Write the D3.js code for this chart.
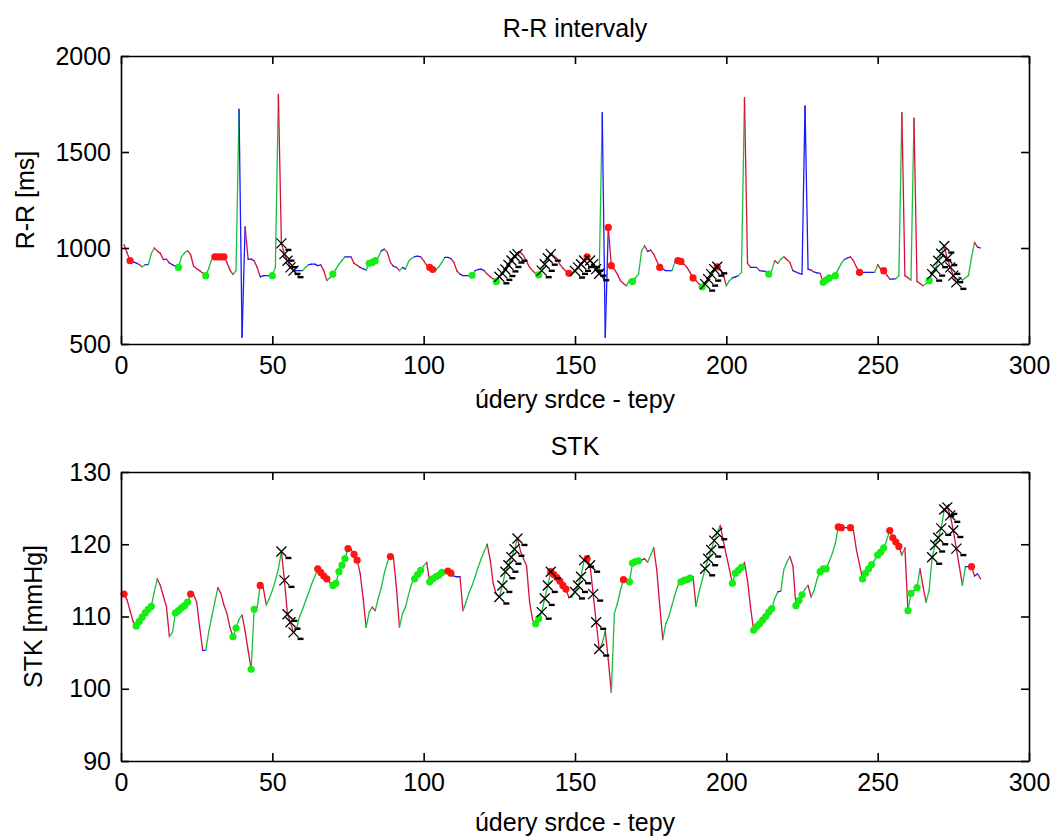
<!DOCTYPE html>
<html><head><meta charset="utf-8">
<script src="https://cdn.jsdelivr.net/npm/d3@7"></script>
<style>
body{margin:0;background:#fff}
text{font-family:"Liberation Sans",Arial,sans-serif;fill:#000}
</style>
</head><body>
<svg id="chart" width="1054" height="836"></svg>
<script>
// ---------------- DATA ----------------
const beats = d3.range(1, 285);

const rrValues = [
1017,975,934,928,922,914,902,913,913,970,
1000,985,972,940,942,922,913,905,899,955,
975,985,965,905,892,882,870,856,895,940,
954,954,954,954,925,885,862,882,1723,535,
1110,942,942,934,899,850,856,856,856,856,
899,1800,1024,968,934,899,882,882,882,882,
900,913,916,916,908,912,882,830,845,864,
890,916,935,954,954,954,920,910,899,892,
885,920,925,934,951,985,994,977,925,905,
899,882,899,890,930,945,955,958,954,934,
910,899,888,885,902,925,951,951,945,925,
880,864,856,856,856,858,882,888,890,882,
864,850,838,826,850,868,888,912,935,958,
968,978,960,930,899,882,866,860,882,915,
947,968,958,945,915,895,880,868,864,880,
899,915,935,954,935,916,890,866,1705,535,
1107,908,890,864,830,815,803,833,826,845,
864,985,1012,982,989,968,934,899,890,882,
882,882,925,934,930,915,899,873,844,830,
812,798,812,838,864,890,902,885,864,803,
830,844,850,856,873,1783,920,899,899,899,
882,880,878,864,882,934,920,942,954,940,
925,882,875,868,864,1740,890,885,875,870,
868,821,833,844,850,856,890,920,940,948,
954,934,900,873,873,873,873,873,873,913,
890,882,860,838,838,840,856,1705,856,845,
833,1676,826,815,803,815,830,864,890,934,
970,1010,945,899,856,821,847,833,845,856,
950,1029,1005,1000
];

const stkValues = [
113.1,112.3,110.8,109.3,108.7,109.3,109.9,110.5,111.0,111.4,
113.4,115.2,114.3,112.8,111.4,107.2,107.8,110.5,110.8,111.2,
111.5,112.0,113.1,113.0,112.0,108.5,105.3,105.3,107.9,110.0,
112.0,114.0,113.2,111.6,110.4,108.5,107.2,108.4,109.6,110.2,
108.0,105.3,102.7,111.0,111.3,114.3,114.0,111.6,112.5,113.6,
115.0,116.6,119.0,115.0,110.3,109.2,107.8,108.3,110.0,111.0,
112.2,113.3,114.5,115.5,116.6,116.1,115.6,115.2,114.7,114.3,
114.6,116.2,117.1,118.0,119.4,119.3,118.6,117.8,116.0,112.5,
108.5,110.6,111.3,110.8,112.5,114.0,116.0,117.5,118.3,118.2,
114.0,108.5,110.4,111.3,113.0,114.5,115.2,115.8,116.4,117.0,
117.5,114.8,115.2,115.5,115.7,116.1,116.3,116.3,116.0,115.6,
115.5,115.5,110.8,112.0,113.3,114.3,115.5,116.8,118.0,119.0,
120.0,117.8,114.5,113.1,112.7,114.3,116.2,117.1,118.2,119.3,
120.8,119.0,118.0,117.0,112.0,109.5,109.0,109.7,110.6,112.5,
114.3,116.2,115.8,115.4,114.9,114.3,113.8,112.6,112.7,113.4,
114.3,115.5,117.8,118.0,117.1,113.1,109.2,105.5,106.3,108.0,
104.0,99.5,110.4,111.8,113.6,115.1,115.2,114.8,117.4,117.6,
117.7,117.8,118.0,117.5,118.5,119.5,116.5,111.5,106.8,109.0,
110.0,111.5,113.0,114.3,114.8,115.0,115.1,115.3,115.5,111.4,
113.4,115.0,116.6,118.0,119.2,120.5,121.6,122.6,120.5,118.5,
116.6,114.6,116.0,116.4,116.8,117.5,115.0,111.3,108.1,108.6,
109.0,109.5,110.0,110.6,111.1,112.5,113.4,113.5,116.5,117.5,
118.3,117.0,111.5,112.2,113.0,113.8,114.3,112.7,113.6,115.2,
116.2,116.6,116.6,117.6,118.7,120.1,122.4,122.3,122.3,122.3,
122.3,121.9,119.2,117.2,115.2,116.0,116.6,117.2,117.8,118.5,
118.9,119.5,120.6,121.9,120.9,120.3,119.7,118.5,119.5,110.8,
113.2,113.6,114.0,116.6,114.1,112.0,113.6,118.2,119.9,120.9,
122.2,124.8,125.1,124.0,121.9,119.4,116.9,114.3,116.9,116.9,
116.9,115.6,115.9,115.2
];

const xTicks = [0, 50, 100, 150, 200, 250, 300];
const rrTicks = [500, 1000, 1500, 2000];
const stkTicks = [90, 100, 110, 120, 130];

// beats flagged in the R-R series (ectopic / excluded)
const rrArtifacts = [40, 160, 226];

// marked beats (sequence markers)
const sequenceBeats = [53,54,55,56,57,125,126,127,128,129,130,131,139,140,141,142,
  150,151,152,153,155,156,157,158,193,194,195,196,197,268,269,270,271,272,273,274,275,276];
const rrGreenBeats = [19,28,50,70,82,83,84,116,124,138,169,192,214,232,233,234,236,267];
const rrRedBeats = [3,31,32,33,34,102,103,148,154,161,162,178,184,185,189,197,244,252];
const stkGreenBeats = [5,6,7,8,9,10,18,19,20,21,22,37,38,43,44,70,71,72,73,74,97,98,99,
  102,103,104,105,106,137,138,168,169,170,171,185,186,187,188,202,203,204,205,
  209,210,211,212,213,214,215,223,224,225,231,232,233,245,246,247,248,250,251,252,260,261,263];
const stkRedBeats = [1,23,46,65,66,67,68,75,77,78,89,108,109,142,143,144,145,146,147,
  154,166,237,238,241,254,255,256,257,281];

// ---------------- DRAWING ----------------
const svg = d3.select("#chart");
svg.append("rect").attr("width",1054).attr("height",836).attr("fill","#fff");

const COL = {up:"#19bf3c", down:"#d6103a", flat:"#1a1aff", gDot:"#14ee14", rDot:"#ff1414"};
const x = d3.scaleLinear().domain([0,300]).range([121,1029]);

function panel(opt){
  const y = d3.scaleLinear().domain(opt.domain).range([opt.bottom, opt.top]);
  const g = svg.append("g");
  const vals = opt.values;
  const pts = beats.map((b,i)=>({b, v:vals[i]}));

  // segments
  const segs = d3.pairs(pts).map(([a,c])=>{
    const d = c.v - a.v;
    let cls = d > opt.eps ? "up" : (d < -opt.eps ? "down" : "flat");
    if (opt.artifacts && (opt.artifacts.includes(a.b) || opt.artifacts.includes(c.b))) cls = "flat";
    return {a, c, cls};
  });
  g.append("g").selectAll("line").data(segs).join("line")
    .attr("x1",d=>x(d.a.b)).attr("y1",d=>y(d.a.v))
    .attr("x2",d=>x(d.c.b)).attr("y2",d=>y(d.c.v))
    .attr("stroke",d=>COL[d.cls]).attr("stroke-width",1.3)
    .attr("stroke-linecap","round");

  const byBeat = b => pts[b-1];
  // dots
  g.append("g").selectAll("circle.g").data(opt.greens.map(byBeat)).join("circle")
    .attr("cx",d=>x(d.b)).attr("cy",d=>y(d.v)).attr("r",3.6).attr("fill",COL.gDot);
  g.append("g").selectAll("circle.r").data(opt.reds.map(byBeat)).join("circle")
    .attr("cx",d=>x(d.b)).attr("cy",d=>y(d.v)).attr("r",3.6).attr("fill",COL.rDot);
  // cross markers
  const cr = g.append("g").attr("stroke","#000").attr("fill","none");
  const cm = cr.selectAll("g").data(sequenceBeats.map(byBeat)).join("g")
    .attr("transform",d=>`translate(${x(d.b)},${y(d.v)})`);
  cm.append("path").attr("d","M-5,-5L5,5M-5,5L5,-5").attr("stroke-width",1.3);
  cm.append("path").attr("d","M4,6.5H10").attr("stroke-width",2.4);

  // axes
  const axB = d3.axisBottom(x).tickValues(xTicks).tickSize(-8).tickSizeOuter(0).tickPadding(12).tickFormat(d3.format("d"));
  const axT = d3.axisTop(x).tickValues(xTicks).tickSize(-8).tickSizeOuter(0).tickFormat("");
  const axL = d3.axisLeft(y).tickValues(opt.ticks).tickSize(-8).tickSizeOuter(0).tickPadding(10).tickFormat(d3.format("d"));
  const axR = d3.axisRight(y).tickValues(opt.ticks).tickSize(-8).tickSizeOuter(0).tickFormat("");
  const style = s => { s.selectAll("path,line").attr("stroke","#000").attr("stroke-width",1.6);
                       s.selectAll("text").style("font-size","25px").attr("fill","#000")
                        .style("font-family","'Liberation Sans',Arial,sans-serif"); };
  g.append("g").attr("transform",`translate(0,${opt.bottom})`).call(axB).call(style);
  g.append("g").attr("transform",`translate(0,${opt.top})`).call(axT).call(style);
  g.append("g").attr("transform",`translate(121,0)`).call(axL).call(style);
  g.append("g").attr("transform",`translate(1029,0)`).call(axR).call(style);

  // texts
  g.append("text").attr("x",575).attr("y",opt.titleY).attr("text-anchor","middle")
    .style("font-size","25px").text(opt.title);
  g.append("text").attr("x",575).attr("y",opt.xlabelY).attr("text-anchor","middle")
    .style("font-size","25px").text("údery srdce - tepy");
  g.append("text").attr("transform",`translate(${opt.ylabelX},${(opt.top+opt.bottom)/2}) rotate(-90)`)
    .attr("text-anchor","middle").style("font-size","25px").text(opt.ylabel);
}

panel({top:56, bottom:344, domain:[500,2000], ticks:rrTicks, values:rrValues, eps:9,
  artifacts:rrArtifacts, greens:rrGreenBeats, reds:rrRedBeats,
  title:"R-R intervaly", titleY:37, xlabelY:408, ylabel:"R-R [ms]", ylabelX:34});
panel({top:472, bottom:761, domain:[90,130], ticks:stkTicks, values:stkValues, eps:0.4,
  greens:stkGreenBeats, reds:stkRedBeats,
  title:"STK", titleY:455, xlabelY:831, ylabel:"STK [mmHg]", ylabelX:42});
</script>
</body></html>
